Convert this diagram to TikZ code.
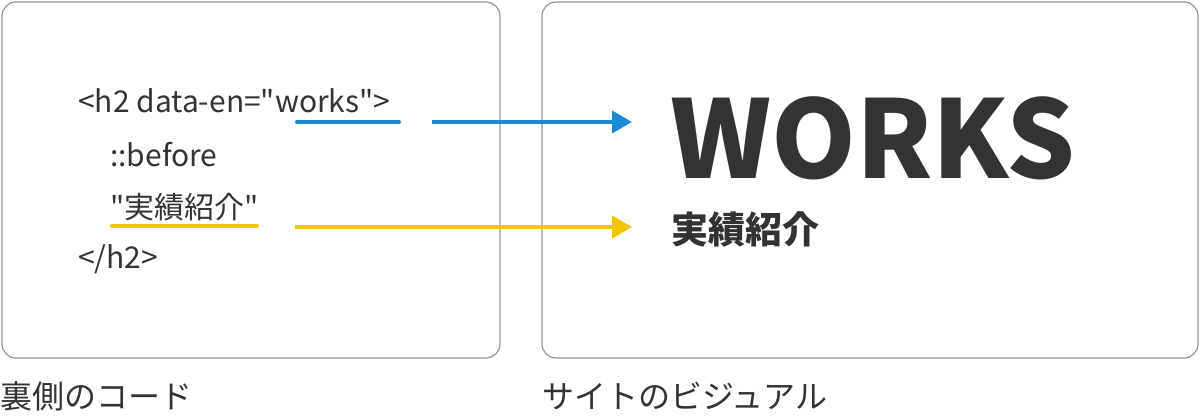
\documentclass[tikz,border=0pt]{standalone}
\usepackage{fontspec}
\setmainfont{Noto Sans CJK JP}[Ligatures=TeXOff]
\usetikzlibrary{positioning,arrows.meta}
\definecolor{codeblue}{RGB}{26,138,212}
\definecolor{codeyellow}{RGB}{245,196,0}
\definecolor{textgray}{RGB}{51,51,51}
\tikzset{
  panel/.style={draw={rgb,255:red,150;green,150;blue,150},line width=1.2pt,rounded corners=14pt},
  code/.style={anchor=base west,inner sep=0pt,text=textgray,font=\fontsize{30}{34}\selectfont},
  caption/.style={anchor=base west,inner sep=0pt,text=textgray,font=\fontsize{32}{36}\selectfont},
  underline/.style={line width=4pt,line cap=round},
  link/.style={line width=4pt,-{Triangle[length=20pt,width=22pt]}}
}
\begin{document}
\begin{tikzpicture}[x=1pt,y=-1pt]
		\useasboundingbox (0,0) rectangle (1200,420);
		
		% panels
		\draw[panel] (2,2) rectangle (500,358);
		\draw[panel] (542,2) rectangle (1198,358);
		
		% code lines
		\node[code] (line1) at (78,113) {<h2 data-en="works">};
		\node[code] (line2) at (110,166) {::before};
		\node[code] (line3) at (110,218) {"実績紹介"};
		\node[code] (line4) at (78,268) {</h2>};
		
		% visual side
		\node[anchor=base west,inner sep=0pt,text=textgray,font=\fontsize{108}{108}\selectfont\bfseries] (works) at (670,178) {WORKS};
		\node[anchor=base west,inner sep=0pt,text=textgray,font=\fontsize{37}{40}\selectfont\bfseries] (jisseki) at (671,243) {実績紹介};
		
		% captions
		\node[caption] (back) at (0,408) {裏側のコード};
		\node[caption] (site) at (542,408) {サイトのビジュアル};
		
		% underlines
		\coordinate (bluea) at (297,122);
		\coordinate (blueb) at (399,122);
		\coordinate (yela) at (112,226);
		\coordinate (yelb) at (257,226);
		\draw[underline,codeblue] (bluea) -- (blueb);
		\draw[underline,codeyellow] (yela) -- (yelb);
		
		% arrows
		\coordinate (bluestart) at (432,122);
		\coordinate (blueend) at (632,122);
		\coordinate (yelstart) at (295,227);
		\coordinate (yelend) at (632,227);
		\draw[link,codeblue] (bluestart) -- (blueend);
		\draw[link,codeyellow] (yelstart) -- (yelend);
		
\end{tikzpicture}
\end{document}
